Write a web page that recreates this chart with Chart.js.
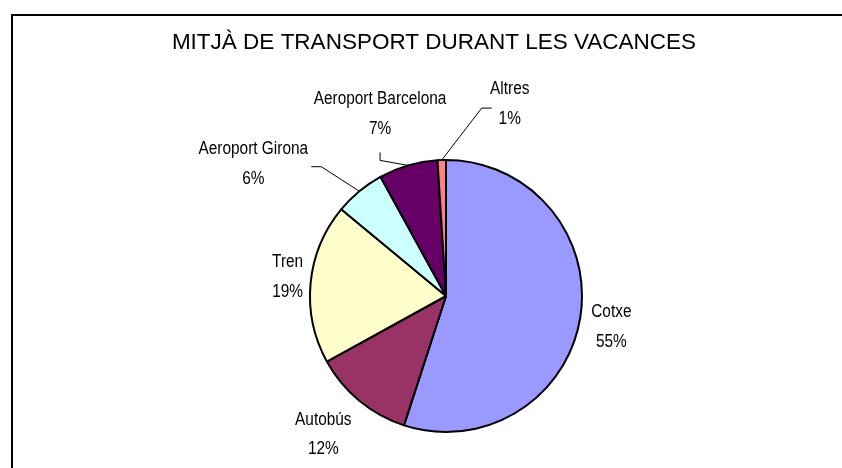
<!DOCTYPE html>
<html>
<head>
<meta charset="utf-8">
<script src="https://cdn.jsdelivr.net/npm/chart.js@4"></script>
<style>
  html, body { margin: 0; padding: 0; background: #fff; }
  #wrap { width: 842px; height: 468px; position: relative; }
</style>
</head>
<body>
<div id="wrap"><canvas id="chart-transport" width="842" height="468"></canvas></div>
<script>
// Transport used during the holidays (percent of answers)
const categories = ["Cotxe", "Autobús", "Tren", "Aeroport Girona", "Aeroport Barcelona", "Altres"];
const shares = [55, 12, 19, 6, 7, 1];
const sliceColors = ["#9999FF", "#993366", "#FFFFCC", "#CCFFFF", "#660066", "#FF8080"];
const titleText = "MITJÀ DE TRANSPORT DURANT LES VACANCES";

// label block offset from the slice's outer edge at its mid angle
const labelOffsets = [
  [31, 10],
  [-36, 34],
  [-23, -6],
  [-106, -27],
  [-28, -51],
  [68, -56],
];
// leader elbows, relative to the label centre (empty = no leader)
const leaders = [
  [],
  [],
  [],
  [[58, 2.5], [68, 2.5]],
  [[0, 38], [0, 46]],
  [[-18, 4], [-28, 4]],
];

const LABEL_FONT = "17.5px 'Liberation Sans', Arial, sans-serif";
const LABEL_SQUEEZE = 0.88;
const LINE_GAP = 29.5;

// narrow text, the way the labels are set
function squeezedText(ctx, text, x, y, sx) {
  ctx.save();
  ctx.translate(x, y);
  ctx.scale(sx, 1);
  ctx.fillText(text, 0, 0);
  ctx.restore();
}

const decorPlugin = {
  id: "decor",
  beforeDraw(chart) {
    const ctx = chart.ctx;
    ctx.save();
    ctx.fillStyle = "#fff";
    ctx.fillRect(0, 0, chart.width, chart.height);
    // frame (only top and left edges are inside the page)
    ctx.strokeStyle = "#000";
    ctx.lineWidth = 2;
    ctx.beginPath();
    ctx.moveTo(12, chart.height + 2);
    ctx.lineTo(12, 15);
    ctx.lineTo(chart.width + 2, 15);
    ctx.stroke();
    // title
    ctx.fillStyle = "#000";
    ctx.font = "22.5px 'Liberation Sans', Arial, sans-serif";
    ctx.textAlign = "center";
    ctx.textBaseline = "middle";
    ctx.fillText(titleText, 434, 43);
    ctx.restore();
  },
  afterDatasetsDraw(chart) {
    const ctx = chart.ctx;
    const meta = chart.getDatasetMeta(0);
    ctx.save();
    ctx.font = LABEL_FONT;
    ctx.fillStyle = "#000";
    ctx.strokeStyle = "#000";
    ctx.lineWidth = 1;
    ctx.textAlign = "center";
    ctx.textBaseline = "middle";
    meta.data.forEach((arc, i) => {
      const p = arc.getProps(["x", "y", "startAngle", "endAngle", "outerRadius"], true);
      const mid = (p.startAngle + p.endAngle) / 2;
      const ex = p.x + p.outerRadius * Math.cos(mid);
      const ey = p.y + p.outerRadius * Math.sin(mid);
      const cx = ex + labelOffsets[i][0];
      const cy = ey + labelOffsets[i][1];
      squeezedText(ctx, categories[i], cx, cy - LINE_GAP / 2, LABEL_SQUEEZE);
      squeezedText(ctx, shares[i] + "%", cx, cy + LINE_GAP / 2, LABEL_SQUEEZE);
      const pts = leaders[i];
      if (pts.length) {
        ctx.beginPath();
        ctx.moveTo(cx + pts[0][0], cy + pts[0][1]);
        for (let k = 1; k < pts.length; k += 1) {
          ctx.lineTo(cx + pts[k][0], cy + pts[k][1]);
        }
        ctx.lineTo(ex, ey);
        ctx.stroke();
      }
    });
    ctx.restore();
  },
};

new Chart(document.getElementById("chart-transport").getContext("2d"), {
  type: "pie",
  data: {
    labels: categories,
    datasets: [
      {
        data: shares,
        backgroundColor: sliceColors,
        borderColor: "#000",
        borderWidth: 2,
      },
    ],
  },
  options: {
    responsive: false,
    animation: false,
    layout: {
      padding: { left: 200, right: 150, top: 159, bottom: 35 },
    },
    plugins: {
      legend: { display: false },
      title: { display: false },
      tooltip: { enabled: false },
    },
  },
  plugins: [decorPlugin],
});
</script>
</body>
</html>
